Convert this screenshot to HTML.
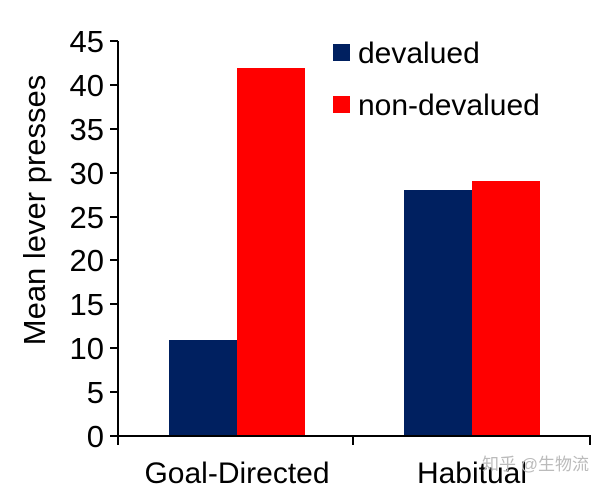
<!DOCTYPE html>
<html><head><style>body{margin:0;background:#fff}</style></head><body>
<svg width="604" height="489" xmlns="http://www.w3.org/2000/svg" font-family="Liberation Sans, Arial, sans-serif">
<rect width="604" height="489" fill="#fff"/>
<g fill="#002060">
<rect x="169" y="340" width="68" height="96"/>
<rect x="404" y="190" width="68" height="246"/>
</g>
<g fill="#ff0000">
<rect x="237" y="68" width="68" height="368"/>
<rect x="472" y="181" width="68" height="255"/>
</g>
<g stroke="#000" stroke-width="2" fill="none">
<path d="M118 41V436H590V445M353 436V445M118 436V445"/>
<path d="M110 41H118M110 85H118M110 129H118M110 173H118M110 217H118M110 260H118M110 304H118M110 348H118M110 392H118M110 436H118"/>
</g>
<g font-size="31" text-anchor="end" fill="#000">
<text x="104" y="52">45</text><text x="104" y="96">40</text><text x="104" y="140">35</text><text x="104" y="184">30</text><text x="104" y="228">25</text><text x="104" y="271">20</text><text x="104" y="315">15</text><text x="104" y="359">10</text><text x="104" y="403">5</text><text x="104" y="447">0</text>
</g>
<text transform="translate(45,210) rotate(-90)" font-size="31" text-anchor="middle">Mean lever presses</text>
<text x="237" y="483" font-size="30" text-anchor="middle">Goal-Directed</text>
<text x="472" y="483" font-size="30" text-anchor="middle">Habitual</text>
<rect x="333" y="44" width="17" height="17" fill="#002060"/>
<text x="358" y="63" font-size="30">devalued</text>
<rect x="333" y="96" width="17" height="17" fill="#ff0000"/>
<text x="358" y="115" font-size="30">non-devalued</text>
<text x="482" y="470" font-size="17" fill="#bbb" font-family="Liberation Sans, Noto Sans CJK SC, sans-serif">知乎 @生物流</text>
</svg>
</body></html>
